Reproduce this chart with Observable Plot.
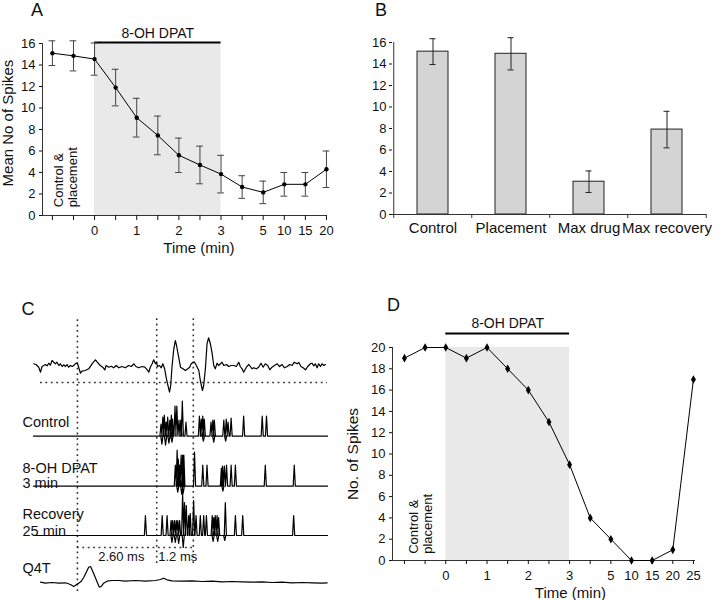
<!DOCTYPE html>
<html><head><meta charset="utf-8">
<script src="https://cdn.jsdelivr.net/npm/d3@7"></script>
<script src="https://cdn.jsdelivr.net/npm/@observablehq/plot@0.6"></script>
<style>
body{margin:0;background:#fff;}
#fig{position:relative;width:720px;height:600px;font-family:"Liberation Sans",Arial,sans-serif;}
#fig > div{position:absolute;}
#fig svg{overflow:visible;}
</style></head><body><div id="fig"></div>
<script>
// ---------------- DATA ----------------
// Panel A: mean number of spikes (± SEM) per time bin
const timeLabelsA = ["", "", "0", "", "1", "", "2", "", "3", "", "5", "10", "15", "20"];
const meanA = [15.1, 14.85, 14.55, 11.9, 9.1, 7.45, 5.6, 4.7, 3.85, 2.65, 2.15, 2.9, 2.9, 4.3];
const semA  = [1.15, 1.4, 1.5, 1.7, 1.8, 1.8, 1.6, 1.75, 1.75, 1.05, 1.05, 1.1, 1.1, 1.7];
const drugLabel = "8-OH DPAT";
const drugStart = "0", drugEnd = "3";

// Panel B: bar chart
const catsB = ["Control", "Placement", "Max drug", "Max recovery"];
const meanB = [15.15, 14.95, 3.05, 7.9];
const semB  = [1.2, 1.5, 1.0, 1.7];

// Panel D: single-cell spike counts
const timeLabelsD = ["", "", "0", "", "1", "", "2", "", "3", "", "5", "10", "15", "20", "25"];
const countsD = [19, 20, 20, 19, 20, 18, 16, 13, 9, 4, 2, 0, 0, 1, 17];

// Panel C: traces (time in ms from stimulus, amplitude in arbitrary units)
const topT = [-1.43,-1.35,-1.27,-1.21,-1.16,-1.10,-1.05,-0.99,-0.94,-0.89,-0.83,-0.78,-0.72,-0.67,-0.61,-0.56,-0.50,-0.45,-0.39,-0.34,-0.29,-0.23,-0.17,-0.12,-0.07,-0.01,0.04,0.10,0.15,0.26,0.37,0.48,0.59,0.65,0.75,0.83,0.90,0.94,1.03,1.11,1.19,1.27,1.36,1.46,1.57,1.68,1.77,1.85,1.92,2.01,2.12,2.21,2.29,2.34,2.39,2.45,2.50,2.56,2.59,2.63,2.69,2.75,2.80,2.86,2.93,3.02,3.06,3.10,3.16,3.21,3.25,3.32,3.38,3.46,3.54,3.62,3.68,3.73,3.79,3.84,3.90,3.98,4.03,4.10,4.14,4.20,4.25,4.30,4.36,4.42,4.47,4.52,4.58,4.63,4.69,4.74,4.80,4.89,4.96,5.04,5.13,5.21,5.29,5.34,5.40,5.45,5.54,5.62,5.67,5.73,5.78,5.87,5.94,6.02,6.09,6.16,6.24,6.31,6.38,6.46,6.55,6.63,6.71,6.79,6.88,6.96,7.04,7.11,7.20,7.26,7.33,7.40,7.48,7.55,7.64,7.69,7.75,7.80,7.86,7.91,7.97,8.02,8.08,8.13];
const topA = [0.7,-0.3,-2.7,-7.7,-2,-1,0,-1.3,1.3,-0.7,4,2.3,0.7,2.3,-1,0.7,-2,-0.3,-2,0,-2.7,-1,-2,-1,0.7,1.7,-2.7,-8.7,-6.7,-6,-4.3,0.7,4.7,2.3,-1,-2.7,-5.3,-1,-2.7,-1.7,-3.3,-1,-3.3,-2,-3.3,-1,-2,0.7,-2,-3.3,-2,-2.7,-5.3,-7.7,-2.7,0.7,4.7,0.7,2.3,-2,-1,-3.3,0.7,-4.3,-16,-27.7,-21,-2.7,15.7,24,19,7.3,-2.7,-4.3,-6,-4.3,-2.7,0.7,2,2.3,-1,-6,-16,-26,-21,-2.7,20.7,26.7,20.7,10.7,-1,-4.3,1.3,-1,0.7,2.3,-1,0,-2,-1,-1,-2,2.3,-2,-4.3,-7.7,-2.7,0,-2,-4.3,-3.3,-4.3,-2.7,1.3,-2.7,0.7,-1,-5.3,-2.7,-1,0.7,-2,0,-3.3,-2,0,-1,2.3,0.7,2,-2,-3.3,-5.3,-2,0.7,1.3,-1.3,0.7,-3.3,0.7,-2,0.7,-1,0];
const thresholdA = -18;
const controlT = [2.74,2.77,2.80,2.85,2.89,2.91,2.96,3.00,3.03,3.08,3.10,3.12,3.20,3.26,3.33,3.39,3.44,3.56,4.00,4.06,4.11,4.13,4.16,4.38,4.44,4.47,4.49,4.80,4.86,4.88,4.94,5.04,5.45,6.06,6.20];
const controlH = [12,-8,19,21,-9,14,19,-7,16,21,-6,17,30,30,16,16,35,14,20,17,20,-5,17,14,16,-6,16,16,-5,17,14,18,20,20,20];
const dpatT = [3.21,3.27,3.29,3.31,3.35,3.40,3.42,3.45,3.47,3.49,3.84,4.11,4.25,4.72,4.76,4.77,4.82,4.89,5.04,5.18,6.16,7.11];
const dpatH = [21,36,-6,27,21,31,-8,31,-7,31,34,21,21,18,20,-5,20,21,21,21,21,21];
const recovT = [2.23,2.78,2.94,3.07,3.10,3.12,3.18,3.21,3.24,3.29,3.32,3.35,3.45,3.47,3.51,3.57,3.65,3.70,3.81,3.89,4.03,4.14,4.23,4.42,4.45,4.47,4.52,4.58,4.60,4.63,4.83,4.85,5.18,5.42,7.09];
const recovH = [20,20,20,15,-7,15,15,-7,15,15,-8,15,42,-12,33,30,20,22,35,20,20,20,20,20,-6,18,20,20,-6,18,-5,33,20,20,20];
const q4tT = [-1.21,-1.05,-0.83,-0.61,-0.39,-0.23,-0.12,-0.04,0.04,0.13,0.21,0.29,0.37,0.43,0.48,0.56,0.65,0.72,0.79,0.86,0.97,1.14,1.35,1.57,1.90,2.23,2.56,2.72,2.83,2.94,3.10,3.43,3.76,4.09,4.42,4.74,5.07,5.40,5.73,6.06,6.38,6.71,7.04,7.37,7.70,8.02,8.19];
const q4tA = [-0.7,-1.7,-1,-1.7,-1.3,-3,-5,-3.3,-1.7,0.3,4.3,9.3,14.3,15,11.7,6,-0.7,-5.7,-4.7,-1.7,0.3,1,1,0.3,1,0.3,1,2,3.3,1.7,0.7,0.3,0.7,0,0.3,-0.3,0,-0.3,-0.7,-0.3,-1,-0.7,-1.3,-1,-1.3,-1.7,-1.3];
const markerTimes = [0, 2.6, 3.8];
const intervalLabels = ["2.60 ms", "1.2 ms"];

// ---------------- LAYOUT / STYLE ----------------
const FONT = '"Liberation Sans", Arial, sans-serif';
const SHADE = "#e9e9e9";
const INK = "#111";
const baseStyle = {fontFamily: FONT, fontSize: "13px", color: INK, background: "transparent", overflow: "visible"};
const fig = document.getElementById("fig");
function place(node, left, top) {
  const d = document.createElement("div");
  d.style.left = left + "px"; d.style.top = top + "px";
  d.appendChild(node); fig.appendChild(d);
}

// ---------------- PANEL A ----------------
{
  const data = meanA.map((m, i) => ({i, mean: m, sem: semA[i]}));
  const x1 = timeLabelsA.indexOf(drugStart), x2 = timeLabelsA.indexOf(drugEnd);
  const xDom = [-0.47, 13.05], cap = 0.16;
  const p = Plot.plot({
    width: 360, height: 290, marginLeft: 42, marginRight: 33, marginTop: 43, marginBottom: 75,
    x: {domain: xDom}, y: {domain: [0, 16]},
    style: baseStyle,
    marks: [
      Plot.rect([0], {x1, x2, y1: 0, y2: 16, fill: SHADE}),
      Plot.ruleY([16], {x1, x2, dy: -1, stroke: "#000", strokeWidth: 2.2}),
      Plot.text([drugLabel], {x: (x1 + x2) / 2, y: 16, dy: -6, text: d => d, lineAnchor: "bottom", fontSize: 14}),
      Plot.ruleY([0], {stroke: "#333"}),
      Plot.ruleX([xDom[0]], {y1: 0, y2: 16, stroke: "#333"}),
      Plot.axisY({ticks: d3.range(0, 17, 2), tickSize: 3, tickPadding: 4, label: null, fontSize: 13}),
      Plot.axisX({ticks: d3.range(timeLabelsA.length), tickFormat: i => timeLabelsA[i], tickSize: 5, tickPadding: 5, label: null, fontSize: 13}),
      Plot.ruleX(data, {x: "i", y1: d => d.mean - d.sem, y2: d => d.mean + d.sem, stroke: "#444"}),
      Plot.ruleY(data, {y: d => d.mean + d.sem, x1: d => d.i - cap, x2: d => d.i + cap, stroke: "#444"}),
      Plot.ruleY(data, {y: d => d.mean - d.sem, x1: d => d.i - cap, x2: d => d.i + cap, stroke: "#444"}),
      Plot.line(data, {x: "i", y: "mean", stroke: "#000", strokeWidth: 1}),
      Plot.dot(data, {x: "i", y: "mean", r: 2.2, fill: "#000", stroke: null}),
      Plot.text(["Control &\nplacement"], {x: 0.62, y: 0.77, text: d => d, rotate: -90, textAnchor: "start", lineAnchor: "middle", lineHeight: 1.08, fontSize: 13}),
      Plot.text(["Mean No of Spikes"], {frameAnchor: "left", y: 8.6, dx: -34, text: d => d, rotate: -90, textAnchor: "middle", lineAnchor: "middle", fontSize: 15}),
      Plot.text(["Time (min)"], {x: 6.95, y: 0, dy: 37, text: d => d, lineAnchor: "bottom", fontSize: 15})
    ]
  });
  place(p, 0, 0);
}

// ---------------- PANEL B ----------------
{
  const data = catsB.map((c, i) => ({cat: c, mean: meanB[i], sem: semB[i]}));
  const step = (360 - 32 - 14) / catsB.length;
  const p = Plot.plot({
    width: 360, height: 290, marginLeft: 32, marginRight: 14, marginTop: 42, marginBottom: 76,
    x: {domain: catsB, paddingInner: 0.605, paddingOuter: 0.3}, y: {domain: [0, 16]},
    style: baseStyle,
    marks: [
      Plot.barY(data, {x: "cat", y: "mean", fill: "#d4d4d4", stroke: "#222", strokeWidth: 1}),
      Plot.ruleY([0], {stroke: "#333"}),
      Plot.ruleX([catsB[0]], {dx: -step / 2, y1: 0, y2: 16, stroke: "#333"}),
      Plot.ruleX(catsB, {dx: -step / 2, y1: 0, y2: -0.37, stroke: "#333"}),
      Plot.ruleX([catsB[catsB.length - 1]], {dx: step / 2, y1: 0, y2: -0.37, stroke: "#333"}),
      Plot.axisY({ticks: d3.range(0, 17, 2), tickSize: 3, tickPadding: 3, label: null, fontSize: 13}),
      Plot.axisX({tickSize: 0, tickPadding: 8, label: null, fontSize: 15}),
      Plot.ruleX(data, {x: "cat", y1: d => d.mean - d.sem, y2: d => d.mean + d.sem, stroke: "#222"}),
      Plot.tickY(data, {x: "cat", y: d => d.mean + d.sem, insetLeft: 12.5, insetRight: 12.5, stroke: "#222"}),
      Plot.tickY(data, {x: "cat", y: d => d.mean - d.sem, insetLeft: 12.5, insetRight: 12.5, stroke: "#222"})
    ]
  });
  place(p, 360, 0);
}

// ---------------- PANEL C ----------------
{
  const xDom = [-1.44, 8.2];
  const L = {top: 236, control: 164.3, dpat: 114.3, recov: 65, q4t: 19, dotTop: 282, dotBottom: 9, dotBottomShort: 37, bracket: 53, bracketText: 40};
  const SPIKE_W = 0.035;
  function train(times, heights, level) {
    const idx = d3.range(times.length).sort((a, b) => times[a] - times[b]);
    const pts = [{t: xDom[0], v: level}];
    for (const k of idx) {
      pts.push({t: times[k] - SPIKE_W, v: level}, {t: times[k], v: level + heights[k]}, {t: times[k] + SPIKE_W, v: level});
    }
    pts.push({t: xDom[1], v: level});
    return pts;
  }
  const top = topT.map((t, i) => ({t, v: L.top + topA[i]}));
  const q4t = q4tT.map((t, i) => ({t, v: L.q4t + q4tA[i]}));
  const dots = {stroke: "#333", strokeWidth: 1.6, strokeDasharray: "1.8,3.6"};
  const trace = {x: "t", y: "v", stroke: "#000", strokeWidth: 1.2, curve: "linear"};
  const labels = [
    {s: "Control", y: 173.3}, {s: "8-OH DPAT", y: 128}, {s: "3 min", y: 113},
    {s: "Recovery", y: 81.5}, {s: "25 min", y: 65}, {s: "Q4T", y: 28}
  ];
  const p = Plot.plot({
    width: 360, height: 310, marginLeft: 33, marginRight: 33, marginTop: 0, marginBottom: 0,
    x: {domain: xDom, axis: null}, y: {domain: [0, 310], axis: null},
    style: baseStyle,
    marks: [
      Plot.ruleX(markerTimes, {x: d => d, y1: d => d === 0 ? L.dotBottom : L.dotBottomShort, y2: L.dotTop, ...dots}),
      Plot.ruleY([L.top + thresholdA], {x1: -1.21, x2: xDom[1], ...dots}),
      Plot.ruleY([L.bracket], {x1: markerTimes[0], x2: markerTimes[2], ...dots}),
      Plot.line(top, trace),
      Plot.line(train(controlT, controlH, L.control), trace),
      Plot.line(train(dpatT, dpatH, L.dpat), trace),
      Plot.line(train(recovT, recovH, L.recov), trace),
      Plot.line(q4t, trace),
      Plot.text(labels, {frameAnchor: "left", dx: -11, y: "y", text: "s", textAnchor: "start", lineAnchor: "bottom", fontSize: 14.5}),
      Plot.text(intervalLabels, {x: (d, i) => i === 0 ? 1.44 : 3.29, y: L.bracketText, text: d => d, lineAnchor: "bottom", fontSize: 13})
    ]
  });
  place(p, 0, 290);
}

// ---------------- PANEL D ----------------
{
  const data = countsD.map((c, i) => ({i, c}));
  const x1 = timeLabelsD.indexOf(drugStart), x2 = timeLabelsD.indexOf(drugEnd);
  const xDom = [-0.58, 14.1];
  const p = Plot.plot({
    width: 380, height: 310, marginLeft: 52, marginRight: 25, marginTop: 57, marginBottom: 40,
    x: {domain: xDom}, y: {domain: [0, 20]},
    style: baseStyle,
    marks: [
      Plot.rect([0], {x1, x2, y1: 0, y2: 20, fill: SHADE}),
      Plot.ruleY([20], {x1, x2, dy: -14, stroke: "#000", strokeWidth: 2.2}),
      Plot.text([drugLabel], {x: (x1 + x2) / 2, y: 20, dy: -19.5, text: d => d, lineAnchor: "bottom", fontSize: 14}),
      Plot.ruleY([0], {stroke: "#333"}),
      Plot.ruleX([xDom[0]], {y1: 0, y2: 20, stroke: "#333"}),
      Plot.axisY({ticks: d3.range(0, 21, 2), tickSize: 3, tickPadding: 4, label: null, fontSize: 13}),
      Plot.axisX({ticks: d3.range(timeLabelsD.length), tickFormat: i => timeLabelsD[i], tickSize: 4, tickPadding: 6, label: null, fontSize: 13}),
      Plot.line(data, {x: "i", y: "c", stroke: "#000", strokeWidth: 1}),
      Plot.dot(data, {x: "i", y: "c", symbol: "diamond", r: 2.6, fill: "#000", stroke: null}),
      Plot.text(["Control &\nplacement"], {x: 0.78, y: 0.63, text: d => d, rotate: -90, textAnchor: "start", lineAnchor: "middle", lineHeight: 1.08, fontSize: 13}),
      Plot.text(["No. of Spikes"], {frameAnchor: "left", y: 10, dx: -39, text: d => d, rotate: -90, textAnchor: "middle", lineAnchor: "middle", fontSize: 15.5}),
      Plot.text(["Time (min)"], {x: 8.04, y: 0, dy: 37.5, text: d => d, lineAnchor: "bottom", fontSize: 15})
    ]
  });
  place(p, 340, 290);
}

// ---------------- PANEL LETTERS ----------------
{
  const ns = "http://www.w3.org/2000/svg";
  const svg = document.createElementNS(ns, "svg");
  svg.setAttribute("width", 720); svg.setAttribute("height", 600);
  svg.style.position = "absolute"; svg.style.left = "0"; svg.style.top = "0"; svg.style.pointerEvents = "none";
  [["A", 31, 16], ["B", 375, 16], ["C", 21.5, 315], ["D", 387, 311]].forEach(([s, x, y]) => {
    const t = document.createElementNS(ns, "text");
    t.setAttribute("x", x); t.setAttribute("y", y);
    t.setAttribute("font-family", FONT); t.setAttribute("font-size", 18); t.setAttribute("fill", INK);
    t.textContent = s; svg.appendChild(t);
  });
  fig.appendChild(svg);
}
</script></body></html>
